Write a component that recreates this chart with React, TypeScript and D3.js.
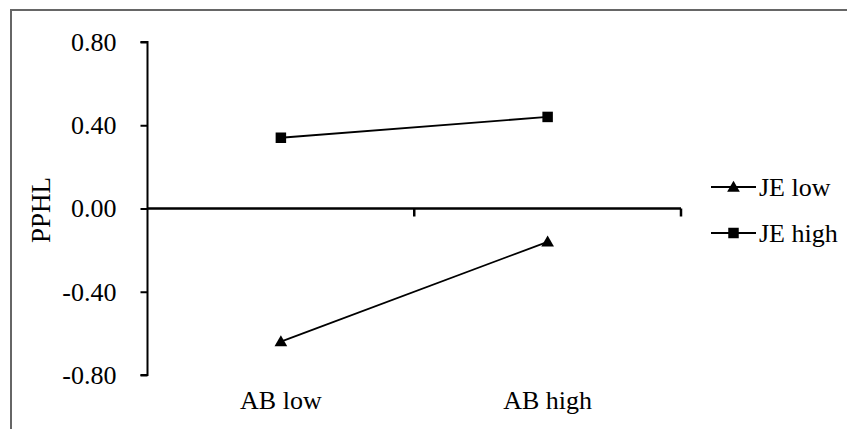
import React, { useEffect, useRef } from "react";
import * as d3 from "d3";

const categories = ["AB low", "AB high"];
const yTicks = [-0.8, -0.4, 0, 0.4, 0.8];
const jeLow = [-0.64, -0.16];
const jeHigh = [0.34, 0.44];
const seriesNames = ["JE low", "JE high"];
const yLabel = "PPHL";

const width = 847;
const height = 429;
const margin = { top: 42, right: 166, bottom: 54, left: 147.5 };
const font = "'Liberation Serif', 'Times New Roman', serif";

export default function App() {
  const ref = useRef<SVGSVGElement>(null);

  useEffect(() => {
    const svg = d3.select(ref.current);
    svg.selectAll("*").remove();

    // frame
    svg
      .append("rect")
      .attr("x", 11)
      .attr("y", 10)
      .attr("width", width)
      .attr("height", height)
      .attr("fill", "none")
      .attr("stroke", "#666")
      .attr("stroke-width", 2);

    const x = d3
      .scaleBand()
      .domain(categories)
      .range([margin.left, width - margin.right]);
    const y = d3
      .scaleLinear()
      .domain([-0.8, 0.8])
      .range([height - margin.bottom, margin.top]);

    // y axis
    const yAxis = d3
      .axisLeft(y)
      .tickValues(yTicks)
      .tickSize(7)
      .tickPadding(24)
      .tickFormat((d) => (d as number).toFixed(2));
    const gy = svg
      .append("g")
      .attr("transform", `translate(${margin.left},0)`)
      .call(yAxis);
    gy.select(".domain").attr("stroke", "#000").attr("stroke-width", 2).attr("d",
      `M-7,${y(0.8)}H0V${y(-0.8)}H-7`);
    gy.selectAll(".tick line").attr("stroke", "#000").attr("stroke-width", 2);
    gy.selectAll(".tick text")
      .attr("font-family", font)
      .attr("font-size", 26)
      .attr("fill", "#000");

    // x axis at zero
    const xEnd = width - margin.right;
    const gx = svg.append("g").attr("transform", `translate(0,${y(0)})`);
    gx.append("line")
      .attr("x1", margin.left)
      .attr("x2", xEnd)
      .attr("stroke", "#000")
      .attr("stroke-width", 2.5);
    const xTickPos = [margin.left + x.step(), xEnd];
    gx.selectAll("line.tk")
      .data(xTickPos)
      .enter()
      .append("line")
      .attr("class", "tk")
      .attr("x1", (d) => d)
      .attr("x2", (d) => d)
      .attr("y1", 0)
      .attr("y2", 8)
      .attr("stroke", "#000")
      .attr("stroke-width", 2.5);

    // category labels
    svg
      .selectAll("text.cat")
      .data(categories)
      .enter()
      .append("text")
      .attr("class", "cat")
      .attr("x", (d) => x(d)! + x.bandwidth() / 2)
      .attr("y", 409)
      .attr("text-anchor", "middle")
      .attr("font-family", font)
      .attr("font-size", 26)
      .text((d) => d);

    // y label
    svg
      .append("text")
      .attr("transform", `translate(50,210) rotate(-90)`)
      .attr("text-anchor", "middle")
      .attr("font-family", font)
      .attr("font-size", 27)
      .text(yLabel);

    const cx = (i: number) => x(categories[i])! + x.bandwidth() / 2;
    const line = d3
      .line<number>()
      .x((_, i) => cx(i))
      .y((d) => y(d));

    const tri = d3.symbol().type(d3.symbolTriangle).size(70);
    const sq = d3.symbol().type(d3.symbolSquare).size(110);

    const series = [
      { name: seriesNames[0], values: jeLow, sym: tri },
      { name: seriesNames[1], values: jeHigh, sym: sq },
    ];

    series.forEach((s, si) => {
      svg
        .append("path")
        .attr("d", line(s.values))
        .attr("fill", "none")
        .attr("stroke", "#000")
        .attr("stroke-width", 1.8);
      svg
        .selectAll(`path.m${si}`)
        .data(s.values)
        .enter()
        .append("path")
        .attr("class", `m${si}`)
        .attr("d", s.sym() as string)
        .attr("transform", (d, i) => `translate(${cx(i)},${y(d) + (si === 0 ? 1 : 0)})`)
        .attr("fill", "#000");

      // legend
      const ly = 187 + si * 46;
      const lg = svg.append("g").attr("transform", `translate(711,${ly})`);
      lg.append("line")
        .attr("x1", 0)
        .attr("x2", 45)
        .attr("stroke", "#000")
        .attr("stroke-width", 1.8);
      lg.append("path")
        .attr("d", s.sym() as string)
        .attr("transform", `translate(22.5,${si === 0 ? 1 : 0})`)
        .attr("fill", "#000");
      lg.append("text")
        .attr("x", 48)
        .attr("y", 9)
        .attr("font-family", font)
        .attr("font-size", 26)
        .text(s.name);
    });
  }, []);

  return (
    <div style={{ position: "absolute", left: 0, top: 0, background: "#fff" }}>
      <svg ref={ref} width={width} height={height} style={{ display: "block" }} />
    </div>
  );
}
